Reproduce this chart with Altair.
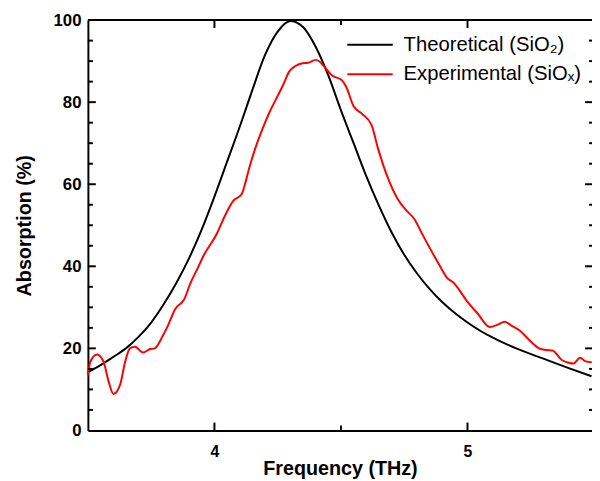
import altair as alt
import pandas as pd

# ---------------- data ----------------
theo_f = [3.50, 3.55, 3.60, 3.65, 3.70, 3.75, 3.80, 3.85, 3.90, 3.95, 4.00, 4.05,
          4.10, 4.15, 4.20, 4.25, 4.30, 4.35, 4.40, 4.45, 4.50, 4.55, 4.60, 4.65,
          4.70, 4.75, 4.80, 4.85, 4.90, 4.95, 5.00, 5.05, 5.10, 5.20, 5.30, 5.40,
          5.49]
theo_v = [14.2, 15.9, 17.9, 20.0, 22.8, 26.3, 30.8, 36.0, 42.0, 49.0, 57.0, 65.5,
          74.0, 83.0, 91.5, 97.2, 99.8, 98.3, 93.5, 86.5, 78.0, 70.0, 62.0, 54.8,
          48.3, 42.8, 38.3, 34.5, 31.3, 28.6, 26.3, 24.3, 22.6, 19.8, 17.5, 15.2,
          13.2]

exp_f = [3.500, 3.510, 3.536, 3.562, 3.582, 3.601, 3.627, 3.647, 3.666, 3.686,
         3.718, 3.744, 3.764, 3.796, 3.816, 3.845, 3.881, 3.906, 3.932, 3.959,
         4.010, 4.036, 4.075, 4.108, 4.125, 4.140, 4.160, 4.190, 4.218, 4.244,
         4.270, 4.296, 4.320, 4.348, 4.370, 4.400, 4.415, 4.432, 4.465, 4.504,
         4.520, 4.550, 4.582, 4.621, 4.646, 4.685, 4.724, 4.760, 4.789, 4.820,
         4.855, 4.890, 4.919, 4.945, 4.997, 5.040, 5.088, 5.120, 5.147, 5.175,
         5.205, 5.245, 5.283, 5.310, 5.335, 5.374, 5.400, 5.419, 5.445, 5.465,
         5.491]
exp_v = [13.5, 16.8, 18.5, 16.7, 11.9, 8.9, 11.1, 16.7, 20.0, 20.4,
         19.0, 19.8, 20.0, 23.1, 25.5, 29.6, 32.0, 36.0, 39.3, 42.8,
         48.0, 51.6, 56.0, 57.6, 61.0, 64.5, 68.5, 73.5, 77.6, 80.8,
         84.0, 87.5, 88.8, 89.5, 89.6, 90.3, 89.9, 88.8, 86.5, 85.3,
         83.8, 79.0, 77.2, 74.4, 68.8, 61.6, 56.4, 53.5, 51.6, 48.0,
         44.0, 40.2, 37.2, 36.0, 31.6, 28.5, 25.2, 25.8, 26.5, 25.5,
         24.4, 22.0, 20.0, 19.6, 19.5, 17.1, 16.5, 16.3, 17.7, 16.9,
         16.6]

series_names = ["Theoretical (SiO\u2082)", "Experimental (SiO\u2093)"]
series_colors = ["#000000", "#ff0000"]

x_labels = [4, 5]
x_major_ticks = [4, 5]
x_minor_ticks = [4.5]
y_labels = [0, 20, 40, 60, 80, 100]
y_major_ticks = [20, 40, 60, 80]
y_minor_ticks = [5, 10, 15, 25, 30, 35, 45, 50, 55, 65, 70, 75, 85, 90, 95]

# ---------------- layout / style ----------------
W, H = 511, 416
FONT = "Liberation Sans"
MAJ, MIN = 8, 5

df = pd.concat([
    pd.DataFrame({"f": theo_f, "v": theo_v, "series": series_names[0]}),
    pd.DataFrame({"f": exp_f, "v": exp_v, "series": series_names[1]}),
], ignore_index=True)

xscale = alt.Scale(domain=[3.5, 5.492], nice=False, zero=False)
yscale = alt.Scale(domain=[0, 100], nice=False, zero=False)

lines = alt.Chart(df).mark_line(strokeWidth=2, interpolate="monotone").encode(
    x=alt.X("f:Q", scale=xscale, axis=alt.Axis(
        values=x_labels, format="d", title="Frequency (THz)", ticks=False,
        domain=True, domainColor="black", domainWidth=2, grid=False,
        labelPadding=13, labelFontSize=16, labelFontWeight="bold",
        labelFont=FONT, labelColor="black",
        titleFont=FONT, titleFontSize=20, titleFontWeight="bold",
        titleColor="black", titleBaseline="alphabetic", titleY=45)),
    y=alt.Y("v:Q", scale=yscale, axis=alt.Axis(
        values=y_labels, format="d", title="Absorption (%)", ticks=False,
        domain=True, domainColor="black", domainWidth=2, grid=False,
        labelPadding=7, labelFontSize=17, labelFontWeight="bold",
        labelFont=FONT, labelColor="black",
        titleFont=FONT, titleFontSize=20, titleFontWeight="bold",
        titleColor="black", titleBaseline="alphabetic", titleX=-58)),
    color=alt.Color("series:N", scale=alt.Scale(domain=series_names, range=series_colors),
                    legend=None),
)


def xticks(vals, y0, y1):
    return alt.Chart(pd.DataFrame({"t": vals})).mark_rule(color="black", strokeWidth=2).encode(
        x=alt.X("t:Q", scale=xscale, axis=None),
        y=alt.value(y0), y2=alt.value(y1))


def yticks(vals, x0, x1):
    return alt.Chart(pd.DataFrame({"t": vals})).mark_rule(color="black", strokeWidth=2).encode(
        y=alt.Y("t:Q", scale=yscale, axis=None),
        x=alt.value(x0), x2=alt.value(x1))


top_frame = alt.Chart(pd.DataFrame({"a": [0]})).mark_rule(color="black", strokeWidth=2).encode(
    x=alt.value(0), x2=alt.value(W), y=alt.value(0))

layers = [
    lines,
    top_frame,
    xticks(x_major_ticks, H, H - MAJ), xticks(x_minor_ticks, H, H - MIN),
    xticks(x_major_ticks, 0, MAJ), xticks(x_minor_ticks, 0, MIN),
    yticks(y_major_ticks, 0, MAJ), yticks(y_minor_ticks, 0, MIN),
    yticks(y_major_ticks, W - 7, W), yticks(y_minor_ticks, W - 3, W),
]

# legend (drawn as annotation)
for i, name in enumerate(series_names):
    ly = 25 + 30 * i
    layers.append(alt.Chart(pd.DataFrame({"series": [name]})).mark_rule(
        color=series_colors[i], strokeWidth=2).encode(
        x=alt.value(263), x2=alt.value(309), y=alt.value(ly)))
    layers.append(alt.Chart(pd.DataFrame({"series": [name]})).mark_text(
        align="left", baseline="middle", font=FONT, fontSize=20.5, color="black").encode(
        x=alt.value(320), y=alt.value(ly), text=alt.Text("series:N")))

chart = alt.layer(*layers).resolve_axis(x="independent", y="independent").properties(
    width=W, height=H,
    padding={"left": 81, "top": 9, "right": 0, "bottom": 48},
    autosize=alt.AutoSizeParams(type="none"),
    background="white",
).configure_view(stroke=None)

chart.save("out.html", embed_options={"renderer": "svg", "actions": False})
